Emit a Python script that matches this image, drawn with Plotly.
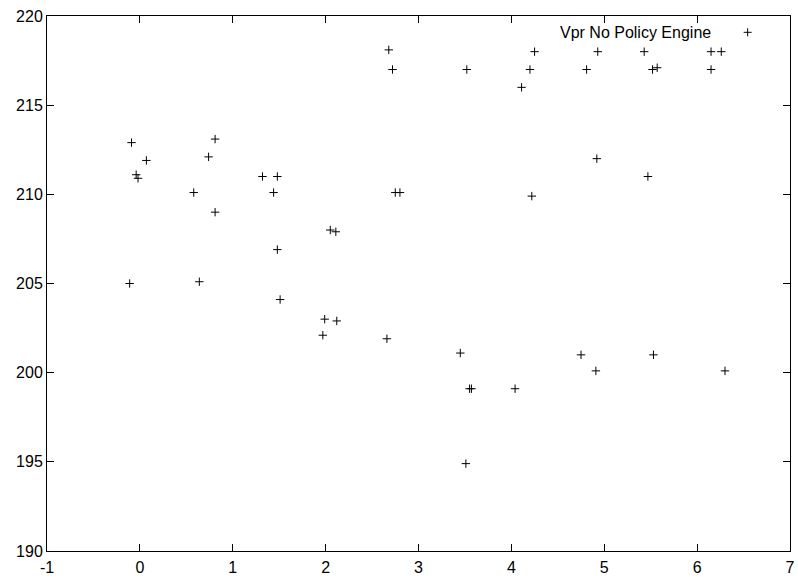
import plotly.graph_objects as go

# Vpr runtime samples without the policy engine
x_vals = [-0.09, 0.07, -0.04, -0.02, 0.58, 0.74, 0.81, 0.81, 1.32, -0.11,
          0.64, 1.48, 1.44, 1.48, 2.05, 2.11, 2.68, 2.72, 2.75, 2.80,
          3.52, 4.11, 4.20, 4.25, 4.93, 4.81, 5.43, 5.52, 5.57, 6.15,
          6.26, 6.15, 4.92, 5.47, 4.22, 1.51, 1.99, 2.12, 1.97, 2.66,
          3.45, 3.55, 3.57, 4.04, 3.51, 4.75, 4.91, 5.53, 6.30]
y_vals = [212.9, 211.9, 211.1, 210.9, 210.1, 212.1, 213.1, 209.0, 211.0, 205.0,
          205.1, 211.0, 210.1, 206.9, 208.0, 207.9, 218.1, 217.0, 210.1, 210.1,
          217.0, 216.0, 217.0, 218.0, 218.0, 217.0, 218.0, 217.0, 217.1, 218.0,
          218.0, 217.0, 212.0, 211.0, 209.9, 204.1, 203.0, 202.9, 202.1, 201.9,
          201.1, 199.1, 199.1, 199.1, 194.9, 201.0, 200.1, 201.0, 200.1]

series_name = "Vpr No Policy Engine"
x_ticks = [-1, 0, 1, 2, 3, 4, 5, 6, 7]
y_ticks = [190, 195, 200, 205, 210, 215, 220]

FONT = "Liberation Sans, Arial, sans-serif"
FSIZE = 16

fig = go.Figure()
fig.add_trace(go.Scatter(
    x=x_vals, y=y_vals, mode="markers", name=series_name,
    marker=dict(symbol="cross-thin-open", size=6, color="black",
                line=dict(width=1, color="black")),
    showlegend=False,
))

axis_common = dict(
    showgrid=False, zeroline=False, showline=True, linecolor="black",
    linewidth=1, mirror="allticks", ticks="inside", ticklen=7,
    tickcolor="black", tickwidth=1, automargin=False,
    tickfont=dict(family=FONT, size=FSIZE, color="black"),
)

# plain hyphen for negative tick labels
fig.update_xaxes(range=[-1, 7], tickvals=x_ticks,
                 ticktext=[str(v) for v in x_ticks], ticklabelstandoff=2,
                 **axis_common)
fig.update_yaxes(range=[190, 220], tickvals=y_ticks,
                 ticktext=[str(v) for v in y_ticks], **axis_common)

# key entry: label on the left, sample marker on the right
key_y = 0.9695
fig.add_annotation(
    x=0.8968, y=key_y, xref="paper", yref="paper", xanchor="right",
    yanchor="middle", text=series_name, showarrow=False,
    font=dict(family=FONT, size=FSIZE, color="black"),
)
kx = 0.943
fig.add_shape(type="line", xref="paper", yref="paper", xsizemode="pixel",
              xanchor=kx, x0=-4, x1=4, y0=key_y, y1=key_y,
              line=dict(color="black", width=1))
fig.add_shape(type="line", xref="paper", yref="paper", ysizemode="pixel",
              yanchor=key_y, y0=-4, y1=4, x0=kx, x1=kx,
              line=dict(color="black", width=1))

fig.update_layout(
    width=798, height=581,
    margin=dict(l=47, r=8, t=16, b=30),
    paper_bgcolor="white", plot_bgcolor="white",
    font=dict(family=FONT, size=FSIZE, color="black"),
)

fig.write_html("out.html")
